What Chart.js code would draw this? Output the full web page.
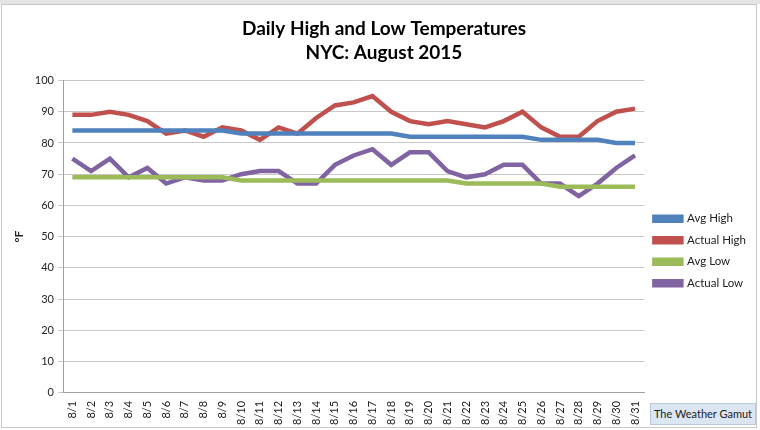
<!DOCTYPE html>
<html>
<head>
<meta charset="utf-8">
<script src="https://cdn.jsdelivr.net/npm/chart.js@4"></script>
<style>
  html, body { margin: 0; padding: 0; background: #fff; }
  #wrap { position: relative; width: 760px; height: 430px; }
  #frame { position: absolute; left: 1px; top: 4px; width: 756px; height: 424px; border: 1px solid #c8c8c8; box-sizing: border-box; }
  #topline { position: absolute; left: 0; top: 0; width: 760px; height: 4px; background: #e4e4e4; }
  canvas { position: absolute; left: 0; top: 0; }
  #badge { position: absolute; left: 650px; top: 403px; width: 106px; height: 22px; background: #dce6f2; border: 1px solid #b9c9dd;
           box-sizing: border-box; font: 11px Lato, sans-serif; color: #222; text-align: center; line-height: 20px; }
</style>
</head>
<body>
<div id="wrap">
  <div id="topline"></div>
  <div id="frame"></div>
  <canvas id="tempChart" width="760" height="430"></canvas>
  <div id="badge">The Weather Gamut</div>
</div>
<script>
const days = ["8/1","8/2","8/3","8/4","8/5","8/6","8/7","8/8","8/9","8/10","8/11","8/12","8/13","8/14","8/15","8/16",
              "8/17","8/18","8/19","8/20","8/21","8/22","8/23","8/24","8/25","8/26","8/27","8/28","8/29","8/30","8/31"];
const avgHigh    = [84,84,84,84,84,84,84,84,84,83,83,83,83,83,83,83,83,83,82,82,82,82,82,82,82,81,81,81,81,80,80];
const actualHigh = [89,89,90,89,87,83,84,82,85,84,81,85,83,88,92,93,95,90,87,86,87,86,85,87,90,85,82,82,87,90,91];
const avgLow     = [69,69,69,69,69,69,69,69,69,68,68,68,68,68,68,68,68,68,68,68,68,67,67,67,67,67,66,66,66,66,66];
const actualLow  = [75,71,75,69,72,67,69,68,68,70,71,71,67,67,73,76,78,73,77,77,71,69,70,73,73,67,67,63,67,72,76];
const yTicks = [0,10,20,30,40,50,60,70,80,90,100];

function line(label, data, color) {
    return {
        label: label,
        data: data,
        borderColor: color,
        backgroundColor: color,
        borderWidth: 4.5,
        pointRadius: 0,
        tension: 0
    };
}

let ctx = document.getElementById("tempChart").getContext("2d");

new Chart(ctx, {
    type: "line",
    data: {
        labels: days,
        datasets: [
            line("Avg High", avgHigh, "#4f81bd"),
            line("Actual High", actualHigh, "#c0504d"),
            line("Avg Low", avgLow, "#9bbb59"),
            line("Actual Low", actualLow, "#8064a2")
        ]
    },
    options: {
        responsive: false,
        animation: false,
        layout: { padding: { left: 12, right: 4, top: 16, bottom: 1 } },
        plugins: {
            title: {
                display: true,
                text: ["Daily High and Low Temperatures", "NYC: August 2015"],
                color: "#000",
                font: { family: "Lato", size: 19, weight: "bold", lineHeight: 1.25 },
                padding: { top: 1, bottom: 16 }
            },
            legend: {
                position: "right",
                title: {
                    // empty title only pushes the legend items down, as in the original
                    display: true,
                    text: " ",
                    font: { size: 4 },
                    padding: { top: 52, bottom: 0 }
                },
                labels: {
                    boxWidth: 27,
                    boxHeight: 4,
                    color: "#222",
                    font: { family: "Lato", size: 11.5 },
                    padding: 10
                }
            },
            tooltip: { enabled: false }
        },
        scales: {
            x: {
                offset: true,
                grid: { display: false, offset: true, drawTicks: true, tickLength: 4 },
                border: { color: "#a0a0a0" },
                ticks: {
                    autoSkip: false,
                    maxRotation: 90,
                    minRotation: 90,
                    color: "#222",
                    font: { family: "Lato", size: 11 },
                    padding: 4
                }
            },
            y: {
                min: 0,
                max: 100,
                afterBuildTicks: axis => { axis.ticks = yTicks.map(v => ({ value: v })); },
                afterFit: axis => { axis.width = 51; },
                grid: { color: "#c8c8c8", tickLength: 5 },
                border: { color: "#a0a0a0" },
                ticks: {
                    color: "#222",
                    font: { family: "Lato", size: 11 },
                    padding: 4
                },
                title: {
                    display: true,
                    text: "°F",
                    color: "#222",
                    font: { family: "Lato", size: 12, weight: "bold" },
                    padding: 0
                }
            }
        }
    }
});
</script>
</body>
</html>
